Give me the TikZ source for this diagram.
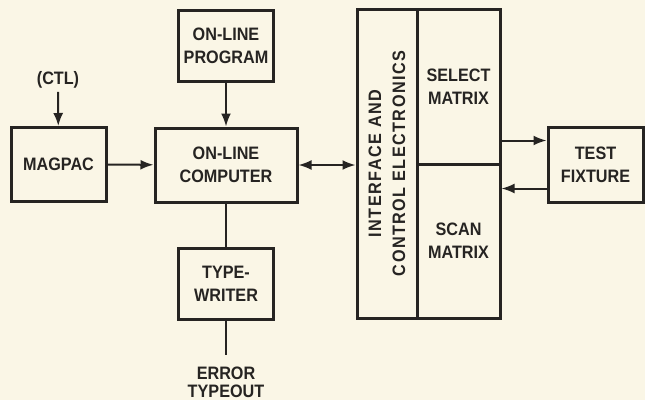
\documentclass[tikz,border=0pt]{standalone}
\usepackage{fontspec}
\setmainfont{Liberation Sans}[FakeStretch=0.9]
\usepackage{xcolor}
\usetikzlibrary{positioning,arrows.meta,calc}
\definecolor{paper}{RGB}{250,246,230}
\definecolor{ink}{RGB}{38,36,34}

\begin{document}
\begin{tikzpicture}[x=1pt, y=-1pt, >={Latex[length=13pt,width=10pt]},
    every node/.style={font=\fontsize{18}{23}\selectfont\bfseries, align=center, text=ink},
    blk/.style={draw=ink, line width=3pt, inner sep=0pt},
    link/.style={draw=ink, line width=2pt}]
  \def\bw{95pt}
  \def\bh{74pt}

  \fill[paper] (0,0) rectangle (645,400);
  \useasboundingbox (0,0) rectangle (645,400);

  \node[blk, minimum width=\bw, minimum height=\bh] (magpac) at (58.5,164.5) {MAGPAC};
  \node[blk, minimum width=142pt, minimum height=\bh] (computer) at (226,165) {ON-LINE\\COMPUTER};
  \node[blk, minimum width=\bw, minimum height=71pt] (program) at (226,45.5) {ON-LINE\\PROGRAM};
  \node[blk, minimum width=\bw, minimum height=71pt] (typewriter) at (226,283.5) {TYPE-\\WRITER};
  \node[blk, rotate=90, minimum width=309pt, minimum height=60pt,
        font=\fontsize{18}{24}\selectfont\bfseries\addfontfeature{LetterSpace=8}] (iface) at (387,163.5)
        {INTERFACE AND\\CONTROL ELECTRONICS};
  \node[blk, minimum width=83pt, minimum height=155pt] (select) at (458.5,86.5) {SELECT\\MATRIX};
  \node[blk, minimum width=83pt, minimum height=154pt] (scan) at (458.5,241) {SCAN\\MATRIX};
  \node[blk, minimum width=\bw, minimum height=75pt] (fixture) at (595.5,164.5) {TEST\\FIXTURE};

  \node (ctl) at (58,80) {(CTL)};
  \node[font=\fontsize{18}{18}\selectfont\bfseries, inner sep=0pt] (error) at (226,382) {ERROR\\TYPEOUT};
  \coordinate (errend) at (226,355);
  \coordinate (fxin) at ([yshift=24pt]fixture.west);
  \coordinate (fxout) at ([yshift=-24pt]fixture.west);

  \draw[link, ->] (ctl) -- (magpac);
  \draw[link, ->] (program) -- (computer);
  \draw[link, ->] (magpac) -- (computer);
  \draw[link, <->] (computer.east) -- (computer.east -| iface.north);
  \draw[link] (computer) -- (typewriter);
  \draw[link] (typewriter) -- (errend);
  \draw[link, ->] (select.east |- fxin) -- (fxin);
  \draw[link, ->] (fxout) -- (scan.east |- fxout);
\end{tikzpicture}
\end{document}
